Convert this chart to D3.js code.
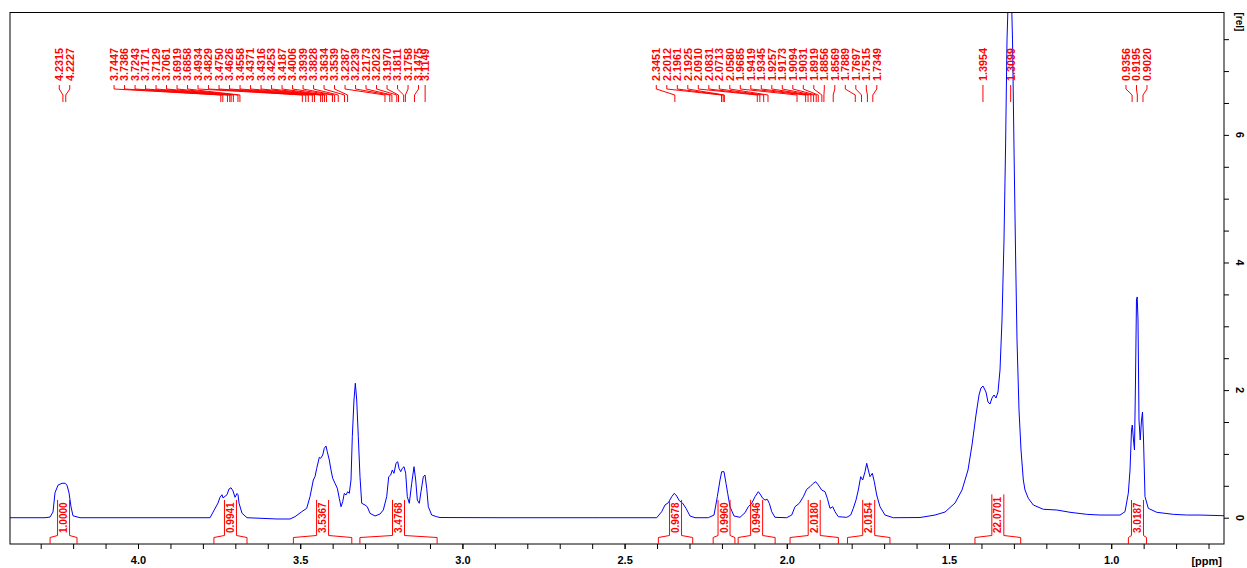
<!DOCTYPE html>
<html><head><meta charset="utf-8">
<script src="https://cdn.jsdelivr.net/npm/d3@7"></script>
<style>body{margin:0;background:#fff;} svg{display:block;font-family:"Liberation Sans",Arial,sans-serif;}</style>
</head><body><svg id="c" width="1247" height="568"></svg>
<script>
// ---- data ----
const ppm = [4.3946,4.2867,4.2713,4.262,4.2559,4.2466,4.2343,4.2250,4.2189,4.2127,4.2065,4.2004,4.1788,
3.963,3.778,3.7534,3.7472,3.7411,3.738,3.7257,3.7195,3.7133,3.7072,3.701,3.6948,3.6917,3.6887,3.6794,3.6640,
3.5715,3.5314,3.516,3.4954,3.480,3.4698,3.4596,3.4544,3.4491,3.4411,3.4368,3.4306,3.4257,3.4205,3.4165,3.4103,3.4051,3.3998,3.3927,3.3856,3.3795,3.3742,3.369,3.3641,3.3588,3.3536,3.3487,3.3434,3.3394,3.3342,3.3301,3.3258,3.3209,3.3157,3.3104,3.3002,3.2932,3.2848,3.2694,3.2540,3.2438,3.2334,3.2272,3.2210,3.2161,3.2109,3.2047,3.1995,3.1954,3.1902,3.1853,3.1800,3.1748,3.1699,3.1637,3.1563,3.1492,3.1440,3.1390,3.1329,3.1276,3.1205,3.1153,3.1100,3.1051,3.0946,3.0792,3.0691,
2.884,2.576,2.401,2.3857,2.3755,2.3653,2.3548,2.3468,2.3394,2.3314,2.3209,2.3107,2.2984,2.2830,2.2420,2.2244,2.2142,2.2059,2.2007,2.1936,2.1874,2.1822,2.1751,2.1628,2.1443,2.1289,2.1187,2.1082,2.0980,2.0878,2.0804,2.0743,2.0672,2.0601,2.0539,2.0465,2.0364,2.0003,1.9849,1.9747,1.9615,1.9491,1.9387,1.9285,1.9183,1.9109,1.9029,1.8924,1.8822,1.8751,1.8668,1.8585,1.8514,1.8412,1.8153,1.8030,1.7950,1.7867,1.7796,1.7722,1.7660,1.7589,1.7537,1.7488,1.7435,1.7364,1.7303,1.7229,1.7127,1.6973,1.6717,
1.5894,1.5432,1.5123,1.4815,1.4599,1.4414,1.4291,1.4168,1.4075,1.4014,1.3952,1.3860,1.3798,1.3736,1.3675,1.3613,1.3551,1.3490,1.3428,1.3366,1.3305,1.3258,1.3212,1.3120,1.3042,1.2996,1.2950,1.2904,1.2842,1.2780,1.2709,1.2657,1.2555,1.2401,1.2092,1.1680,1.1270,1.0755,1.0345,
0.9729,0.9575,0.9473,0.9420,0.9374,0.9350,0.9313,0.9282,0.9251,0.9221,0.9199,0.9174,0.9143,0.9106,0.9066,0.9035,0.9004,0.8958,0.8856,0.8597,0.8086,0.7673,0.7263,0.6523];
const intensity = [0,0,0.01,0.09,0.39,0.51,0.54,0.54,0.51,0.39,0.17,0.03,0,
0,0,0.23,0.32,0.36,0.31,0.36,0.45,0.47,0.42,0.32,0.38,0.36,0.23,0.07,0,
-0.02,-0.02,0.016,0.094,0.147,0.329,0.591,0.643,0.774,0.947,0.931,0.983,1.088,1.124,1.034,0.904,0.748,0.618,0.539,0.461,0.304,0.172,0.251,0.382,0.356,0.408,0.382,0.591,1.270,1.845,2.107,1.845,1.270,0.643,0.226,0.199,0.172,0.069,0.027,0.058,0.121,0.329,0.643,0.669,0.748,0.696,0.853,0.878,0.774,0.721,0.774,0.799,0.696,0.329,0.226,0.539,0.799,0.591,0.277,0.226,0.408,0.643,0.669,0.461,0.172,0.042,0.016,0.003,
0,0,0,0.094,0.199,0.235,0.329,0.382,0.340,0.266,0.226,0.147,0.027,0,0,0.042,0.329,0.591,0.721,0.721,0.539,0.382,0.172,0.027,0.006,0.078,0.172,0.226,0.329,0.408,0.356,0.304,0.277,0.288,0.226,0.094,0.006,0,0.042,0.172,0.226,0.329,0.445,0.486,0.539,0.564,0.513,0.434,0.408,0.304,0.147,0.172,0.094,0.016,0.006,0.042,0.147,0.277,0.434,0.643,0.591,0.721,0.853,0.748,0.643,0.696,0.564,0.356,0.172,0.042,0,
0.003,0.042,0.089,0.230,0.434,0.748,1.140,1.610,1.923,2.033,2.064,1.970,1.813,1.782,1.876,1.923,1.876,1.970,2.315,3.099,4.353,5.763,7.488,9.06,7.488,5.763,4.196,2.786,1.688,1.061,0.591,0.434,0.304,0.199,0.132,0.121,0.085,0.053,0.042,
0.042,0.094,0.382,0.748,1.375,1.453,1.218,1.061,2.158,3.412,3.460,3.099,1.531,1.218,1.531,1.657,1.218,0.329,0.147,0.085,0.053,0.042,0.042,0.031];

const peakShifts = [4.2315,4.2227,
3.7447,3.7386,3.7243,3.7171,3.7129,3.7061,3.6919,3.6858,3.4934,3.4829,3.4750,3.4626,3.4558,3.4371,3.4316,3.4253,3.4187,3.4006,3.3939,3.3828,3.3634,3.3539,3.2387,3.2239,3.2173,3.2023,3.1970,3.1811,3.1758,3.1475,3.1149,
2.3451,2.2012,2.1961,2.1925,2.0910,2.0831,2.0713,2.0580,1.9685,1.9419,1.9345,1.9257,1.9173,1.9094,1.9031,1.8919,1.8856,1.8569,1.7889,1.7697,1.7515,1.7349,
1.3954,1.3099,0.9356,0.9195,0.9020];

const integralFrom = [4.271,3.766,3.521,3.316,2.396,2.227,2.150,1.990,1.813,1.420,0.947];
const integralTo   = [4.188,3.664,3.341,3.078,2.290,2.160,2.036,1.841,1.682,1.279,0.891];
const integralValues = ["1.0000","0.9941","3.5367","3.4768","0.9678","0.9960","0.9946","2.0180","2.0154","22.0701","3.0187"];

const xMajorTicks = [4.0,3.5,3.0,2.5,2.0,1.5,1.0];
const xMinorTicks = d3.range(43,6,-1).map(v=>v/10);
const yMajorTicks = [0,2,4,6];
const yMinorTicks = d3.range(0,8,0.5);

// ---- layout ----
const L=10,R=1224,T=12.5,B=544;
const x = d3.scaleLinear().domain([4.3946,0.6523]).range([L,R]);
const y = d3.scaleLinear().domain([-0.412,7.918]).range([B,T]);
const svg = d3.select("#c");
const RED="#ff0000", BLUE="#0000ff";

svg.append("defs").append("clipPath").attr("id","clip")
  .append("rect").attr("x",L).attr("y",T).attr("width",R-L).attr("height",B-T);

// spectrum
const pts = ppm.map((p,i)=>[p,intensity[i]]);
svg.append("path").attr("clip-path","url(#clip)")
  .attr("d", d3.line().x(d=>x(d[0])).y(d=>y(d[1]))(pts))
  .attr("fill","none").attr("stroke",BLUE).attr("stroke-width",1);

// frame
svg.append("rect").attr("x",L).attr("y",T).attr("width",R-L).attr("height",B-T)
  .attr("fill","none").attr("stroke","#000").attr("stroke-width",1);

// x axis
const gx = svg.append("g").attr("transform",`translate(0,${B})`);
gx.call(d3.axisBottom(x).tickValues(xMinorTicks).tickSize(5).tickFormat(""));
const gx2 = svg.append("g").attr("transform",`translate(0,${B})`);
gx2.call(d3.axisBottom(x).tickValues(xMajorTicks).tickSize(5).tickPadding(7).tickFormat(d3.format(".1f")));
[gx,gx2].forEach(g=>{g.select(".domain").remove(); g.selectAll("line").attr("stroke","#000");});
gx2.selectAll("text").attr("font-size",11).attr("font-weight","bold").attr("fill","#000")
  .attr("font-family","'Liberation Sans',Arial,sans-serif");
svg.append("text").attr("x",R-2).attr("y",565).attr("text-anchor","end")
  .attr("font-size",11).attr("font-weight","bold").text("[ppm]");

// y axis (right)
const gy = svg.append("g").attr("transform",`translate(${R},0)`);
gy.call(d3.axisRight(y).tickValues(yMinorTicks).tickSize(5).tickFormat(""));
gy.select(".domain").remove(); gy.selectAll("line").attr("stroke","#000");
yMajorTicks.forEach(v=>{
  svg.append("text").attr("transform",`translate(${R+16},${y(v)}) rotate(90)`)
    .attr("text-anchor","middle").attr("dy","0.36em")
    .attr("font-size",11).attr("font-weight","bold").text(v);
});
svg.append("text").attr("transform",`translate(${R+16},${T}) rotate(90)`)
  .attr("text-anchor","start").attr("dy","0.36em")
  .attr("font-size",10).attr("font-weight","bold").text("[rel]");

// peak labels
const n = peakShifts.length, sp = 10.5;
const px = peakShifts.map(p=>x(p));
const lx = px.slice(); const pushed = new Array(n).fill(false);
for (let i=n-2;i>=0;i--){ if (lx[i] > lx[i+1]-sp){ lx[i]=lx[i+1]-sp; pushed[i]=true; } }
// groups: chains of pushed labels -> shift slightly right
let i=n-1;
while(i>=0){
  let j=i; while(j-1>=0 && pushed[j-1]) j--;
  if (j<i){ for(let k=j;k<=i;k++) lx[k]+=4; }
  i=j-1;
}
const gp = svg.append("g");
peakShifts.forEach((p,k)=>{
  gp.append("path").attr("d",`M${lx[k]},85V89L${px[k]},95V102`)
    .attr("fill","none").attr("stroke",RED).attr("stroke-width",1);
  gp.append("text").attr("transform",`translate(${lx[k]},81) rotate(-90)`)
    .attr("dy","0.36em").attr("font-size",10.8).attr("font-weight","bold")
    .attr("fill",RED).text(p.toFixed(4));
});

// integrals
const gi = svg.append("g");
integralValues.forEach((v,k)=>{
  const x1 = x(integralFrom[k]), x2 = x(integralTo[k]), c=(x1+x2)/2;
  const t = gi.append("text").attr("transform",`translate(${c},533) rotate(-90)`)
    .attr("dy","0.36em").attr("font-size",10).attr("font-weight","bold").attr("fill",RED).text(v);
  const len = t.node().getComputedTextLength();
  const top = 533-len-2.5;
  gi.append("path").attr("d",`M${x1},${B}V537.5L${c-6},535.5V${top}M${c+6},${top}V535.5L${x2},537.5V${B}`)
    .attr("fill","none").attr("stroke",RED).attr("stroke-width",1);
});
</script></body></html>
